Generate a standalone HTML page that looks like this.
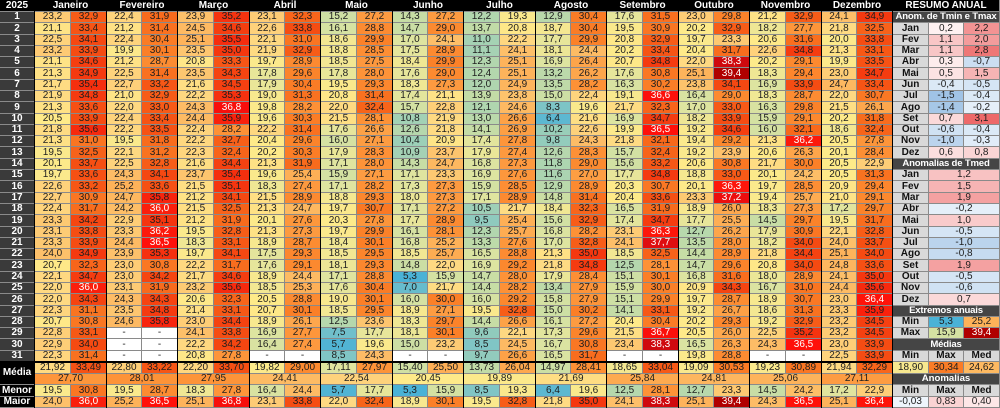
<!DOCTYPE html>
<html><head><meta charset="utf-8">
<style>
html,body{margin:0;padding:0;background:#000;}
#w{position:relative;width:1000px;height:408px;overflow:hidden;background:#8a8a8a;font-family:"Liberation Sans",Arial,sans-serif;}
.c{position:absolute;box-sizing:border-box;font-size:10px;color:#1e1e1e;text-align:center;white-space:nowrap;overflow:hidden;}
.b{font-weight:bold;color:#fff;}
.l{position:absolute;background:#000;}
</style></head><body>
<div id="w"></div>
<script>
var M=["Janeiro","Fevereiro","Março","Abril","Maio","Junho","Julho","Agosto","Setembro","Outubro","Novembro","Dezembro"];
var D=[
"23,2 32,9 21,1 33,4 22,5 34,1 23,2 33,9 21,1 34,6 21,3 34,9 21,7 35,4 21,9 34,8 21,3 33,6 20,5 33,9 21,8 35,6 21,3 31,0 19,5 32,5 20,1 33,7 19,7 33,6 22,6 33,2 22,7 30,9 22,4 31,7 23,3 34,2 23,1 33,8 23,3 33,9 24,0 34,9 20,7 32,3 22,1 34,7 22,0 36,0 22,0 34,3 22,3 31,1 20,7 30,8 22,8 33,1 22,9 34,0 22,3 31,4",
"22,4 31,9 21,2 31,4 22,4 30,4 19,9 30,1 21,2 28,7 22,5 31,4 22,7 33,2 21,0 32,9 22,0 33,0 22,4 33,4 22,2 33,5 19,5 31,8 22,1 31,2 22,5 32,8 24,3 34,1 25,2 33,6 24,7 35,8 24,2 36,0 22,9 35,1 23,3 36,2 24,4 36,5 23,9 35,3 23,0 30,8 23,0 34,2 23,1 31,9 24,3 34,3 23,5 34,8 24,6 35,8 - - - - - -",
"23,9 35,2 24,5 34,6 25,1 35,5 23,5 35,0 20,8 33,3 23,5 34,3 21,6 34,5 22,2 35,3 24,3 36,8 24,4 35,9 22,4 28,2 22,2 32,7 22,3 32,4 21,6 34,4 23,7 35,4 21,5 35,1 21,2 34,1 21,5 32,5 21,2 31,9 19,5 32,8 18,3 33,1 19,7 34,1 22,2 31,7 21,7 34,6 23,2 35,6 20,6 32,3 21,4 33,1 23,0 34,4 24,1 33,8 22,2 34,2 20,8 27,8",
"23,1 32,3 22,6 33,8 22,1 31,0 21,9 32,9 19,7 28,9 17,8 29,6 17,9 30,4 19,0 31,3 19,8 28,2 19,6 30,3 22,2 31,4 20,4 29,6 20,2 30,3 21,3 31,9 19,6 25,4 18,3 27,4 21,5 28,9 21,3 24,7 20,1 27,6 21,3 27,3 18,9 28,7 17,5 29,3 17,6 29,1 18,9 24,4 18,5 25,3 20,5 28,8 20,7 30,1 18,9 26,1 16,9 27,7 16,4 27,4 - -",
"15,2 27,2 16,1 28,8 18,6 29,9 18,8 28,5 18,5 27,5 17,8 28,0 19,5 29,3 20,8 31,4 22,0 32,4 21,5 28,1 17,6 26,6 16,0 27,1 17,9 28,3 17,1 28,0 15,9 27,1 17,1 28,2 18,8 29,3 19,7 30,7 20,3 27,8 19,7 29,9 18,4 30,1 18,5 29,5 18,1 29,3 17,1 28,8 17,6 30,4 19,0 30,1 18,5 29,5 12,5 23,6 7,5 17,7 5,7 19,6 8,5 24,3",
"14,3 27,2 14,7 29,0 17,0 24,1 17,5 28,9 18,4 29,9 17,6 29,0 18,3 27,3 17,4 21,1 15,7 22,8 10,8 21,9 12,6 21,8 10,4 20,9 10,9 23,7 14,3 24,7 17,1 23,3 17,3 27,3 18,0 27,3 17,1 27,2 17,7 28,9 16,1 28,1 16,8 25,2 18,5 25,7 14,8 22,0 5,3 15,9 7,0 21,7 16,0 30,0 18,9 27,1 18,3 29,7 18,1 30,1 15,0 23,2 - -",
"12,2 19,3 13,7 20,8 11,0 22,2 11,1 24,1 12,3 25,1 12,4 25,1 12,0 24,9 13,9 23,8 12,1 24,6 13,0 26,6 14,1 26,9 17,4 27,8 17,9 27,4 16,8 27,3 16,9 27,6 15,9 28,5 17,1 28,9 10,5 21,7 9,5 25,4 12,3 25,7 13,3 27,6 16,5 28,8 16,9 29,2 14,7 28,0 14,4 28,2 16,0 29,2 19,5 32,8 14,4 26,6 9,6 22,1 8,5 24,5 9,7 26,6",
"12,9 30,4 18,7 30,4 17,7 29,9 18,1 24,4 16,9 26,4 13,2 26,2 13,5 28,2 15,0 22,4 8,3 19,6 6,4 21,6 10,2 22,6 9,8 24,3 12,6 28,3 11,8 29,0 11,6 27,0 12,9 28,9 14,8 31,4 18,4 32,3 15,6 32,9 16,8 28,2 17,0 32,8 21,3 35,0 21,8 34,8 17,9 28,4 13,4 27,9 15,8 27,9 15,0 30,2 16,1 27,2 17,3 29,6 16,7 30,8 16,5 31,7",
"17,6 31,5 19,5 30,9 20,8 32,9 20,2 33,4 20,7 34,8 17,6 30,8 16,3 30,2 19,1 36,6 21,7 32,3 16,9 34,7 19,9 36,5 21,8 32,1 15,7 32,4 15,6 33,2 17,7 34,8 20,3 30,7 20,4 33,6 16,5 31,9 17,4 34,7 23,1 36,3 24,1 37,7 18,5 32,5 12,5 28,1 15,1 30,1 15,9 30,0 15,1 29,9 14,1 33,1 20,4 30,4 21,5 36,7 23,4 38,3 - -",
"23,0 29,8 20,2 32,9 19,7 23,3 20,4 31,7 22,0 38,3 25,1 39,4 23,8 34,1 16,4 29,0 17,0 33,0 18,2 33,9 19,2 34,6 19,4 29,2 19,2 23,9 20,6 30,8 18,8 33,0 20,1 36,3 23,3 37,2 18,9 26,0 17,7 25,5 12,7 26,2 13,5 28,0 14,4 28,9 14,7 29,6 16,8 31,6 20,9 34,3 19,7 28,7 19,2 26,7 20,2 29,3 20,5 26,0 16,5 26,3 19,8 28,8",
"21,2 32,9 18,2 27,7 20,6 31,6 22,6 34,8 20,2 29,1 18,3 29,4 16,9 33,9 18,3 28,7 16,3 29,8 15,9 29,1 16,0 32,1 21,3 36,2 20,6 26,3 21,7 30,0 20,1 24,2 19,7 28,5 19,4 25,7 18,3 27,3 14,5 29,7 17,9 30,9 18,2 34,0 21,8 34,4 20,8 34,0 18,0 28,9 16,7 31,0 18,9 30,7 18,6 31,3 19,2 32,9 22,5 35,2 24,3 36,5 - -",
"24,1 34,9 21,8 32,5 20,0 33,8 21,3 33,1 19,9 33,5 23,0 34,7 24,7 33,4 22,0 30,7 21,5 26,1 20,2 31,8 18,6 32,4 20,5 27,8 20,1 28,4 20,5 22,9 20,5 31,3 20,9 29,4 21,0 29,1 17,2 29,7 19,5 31,7 22,1 32,8 24,0 33,7 25,1 34,0 24,8 33,6 24,1 35,0 24,4 35,6 23,0 36,4 23,3 35,9 23,2 34,5 23,2 34,5 23,0 33,9 22,5 33,9"];
var MED=[["21,92","33,49","27,70"],["22,80","33,22","28,01"],["22,20","33,70","27,95"],["19,82","29,00","24,41"],["17,11","27,97","22,54"],["15,40","25,50","20,45"],["13,73","26,04","19,89"],["14,97","28,41","21,69"],["18,65","33,04","25,84"],["19,09","30,53","24,81"],["19,23","30,89","25,06"],["21,94","32,29","27,11"]];
var MEN=["19,5 30,8","19,5 28,7","18,3 27,8","16,4 24,4","5,7 17,7","5,3 15,9","8,5 19,3","6,4 19,6","12,5 28,1","12,7 23,3","14,5 24,2","17,2 22,9"];
var MAI=["24,0 36,0","25,2 36,5","25,1 36,8","23,1 33,8","22,0 32,4","18,9 30,1","19,5 32,8","21,8 35,0","24,1 38,3","25,1 39,4","24,3 36,5","25,1 36,4"];
var ST=[[5,[69,176,216]],[8,[120,194,200]],[11,[165,210,180]],[14,[196,220,166]],[17,[222,228,160]],[19,[248,232,142]],[20.5,[254,234,137]],[22,[254,217,130]],[24,[253,192,106]],[26,[253,168,78]],[28,[253,147,56]],[30,[251,128,40]],[32,[248,106,28]],[34,[245,74,18]],[35.5,[245,45,14]],[36.5,[255,16,10]],[38,[215,12,18]],[39.4,[176,0,0]]];
function col(v){if(v<=ST[0][0])return"rgb("+ST[0][1]+")";for(var i=1;i<ST.length;i++){if(v<=ST[i][0]){var a=ST[i-1],b=ST[i],t=(v-a[0])/(b[0]-a[0]);return"rgb("+[0,1,2].map(function(k){return Math.round(a[1][k]+(b[1][k]-a[1][k])*t)}).join(",")+")";}}return"rgb(176,0,0)";}
function num(s){return parseFloat(s.replace(",","."));}
var W=document.getElementById("w");
function cell(x1,y1,x2,y2,txt,bg,cls,fc){var d=document.createElement("div");d.className="c"+(cls?" "+cls:"");var X=Math.round(x1),Y=Math.round(y1),R=Math.round(x2),B=Math.round(y2);d.style.left=X+"px";d.style.top=Y+"px";d.style.width=(R-X-1)+"px";d.style.height=(B-Y-1)+"px";d.style.lineHeight=(B-Y-1)+"px";d.style.background=bg;if(fc)d.style.color=fc;d.textContent=txt;W.appendChild(d);return d;}
function vcell(x1,y1,x2,y2,s){if(s=="-"){cell(x1,y1,x2,y2,"-","#fff");return;}var v=num(s);cell(x1,y1,x2,y2,s,col(v),"",v>=36?"#fff":null);}
var RH=11.29;function ry(i){return 12+i*RH;}
function mx(m){return 35+m*71.5;}
cell(0,0,35,12,"2025","#000","b");
for(var m=0;m<12;m++)cell(mx(m),0,mx(m+1),12,M[m],"#000","b");
cell(893,0,1000,12,"RESUMO ANUAL","#000","b");
for(var i=0;i<31;i++){cell(0,ry(i),35,ry(i+1),String(i+1),"#3a3a3a","b");}
for(var m=0;m<12;m++){var t=D[m].split(" ");for(var i=0;i<31;i++){vcell(mx(m),ry(i),mx(m)+35.75,ry(i+1),t[2*i]);vcell(mx(m)+35.75,ry(i),mx(m+1),ry(i+1),t[2*i+1]);}}
var Y0=362,Y1=373.5,Y2=385,Y3=396.5,Y4=408;
cell(0,Y0,35,Y2,"Média","#000","b");cell(0,Y2,35,Y3,"Menor","#000","b");cell(0,Y3,35,Y4,"Maior","#000","b");
for(var m=0;m<12;m++){var a=mx(m),h=a+35.75,e=mx(m+1);
vcell(a,Y0,h,Y1,MED[m][0]);vcell(h,Y0,e,Y1,MED[m][1]);vcell(a,Y1,e,Y2,MED[m][2]);
var n=MEN[m].split(" "),x=MAI[m].split(" ");vcell(a,Y2,h,Y3,n[0]);vcell(h,Y2,e,Y3,n[1]);vcell(a,Y3,h,Y4,x[0]);vcell(h,Y3,e,Y4,x[1]);}
var P0=893,P1=928.7,P2=964.3,P3=1000,G="#d9d9d9",DG="#454545";
function anc(v){var s=num(v);if(s>=0){var t=Math.min(s/3.2,1);return"rgb("+Math.round(255-(255-236)*t)+","+Math.round(250-(250-100)*t)+","+Math.round(250-(250-100)*t)+")";}var t=Math.min(-s/1.6,1);return"rgb("+Math.round(240-(240-155)*t)+","+Math.round(246-(246-192)*t)+","+Math.round(252-(252-228)*t)+")";}
function hdr(i,t){var d=cell(P0,ry(i),P3,ry(i+1),t,DG,"b");d.style.fontSize="9.6px";d.style.letterSpacing="-0.2px";}
function lab(y1,y2,t){var d=cell(P0,y1,P1,y2,t,G,"b");d.style.color="#111";}
hdr(0,"Anom. de Tmin e Tmax");
var MS=["Jan","Fev","Mar","Abr","Mai","Jun","Jul","Ago","Set","Out","Nov","Dez"];
var AN=["0,2 2,2","1,1 2,0","1,1 2,8","0,3 -0,7","0,5 1,5","-0,4 -0,5","-1,5 -0,4","-1,4 -0,2","0,7 3,1","-0,6 -0,4","-1,0 -0,3","0,6 0,8"];
for(var i=0;i<12;i++){var p=AN[i].split(" ");lab(ry(i+1),ry(i+2),MS[i]);cell(P1,ry(i+1),P2,ry(i+2),p[0],anc(p[0]));cell(P2,ry(i+1),P3,ry(i+2),p[1],anc(p[1]));}
hdr(13,"Anomalias de Tmed");
var TM=["1,2","1,5","1,9","-0,2","1,0","-0,5","-1,0","-0,8","1,9","-0,5","-0,6","0,7"];
for(var i=0;i<12;i++){lab(ry(i+14),ry(i+15),MS[i]);cell(P1,ry(i+14),P3,ry(i+15),TM[i],anc(TM[i]));}
hdr(26,"Extremos anuais");
lab(ry(27),ry(28),"Min");vcell(P1,ry(27),P2,ry(28),"5,3");vcell(P2,ry(27),P3,ry(28),"25,2");
lab(ry(28),ry(29),"Max");vcell(P1,ry(28),P2,ry(29),"15,9");var d=cell(P2,ry(28),P3,ry(29),"39,4","rgb(176,0,0)","", "#fff");
hdr(29,"Médias");
function lab3(y1,y2){lab(y1,y2,"Min");var a=cell(P1,y1,P2,y2,"Max",G,"b");a.style.color="#111";var b=cell(P2,y1,P3,y2,"Med",G,"b");b.style.color="#111";}
lab3(ry(30),ry(31));
vcell(P0,Y0,P1,Y1,"18,90");vcell(P1,Y0,P2,Y1,"30,34");vcell(P2,Y0,P3,Y1,"24,62");
var h2=cell(P0,Y1,P3,Y2,"Anomalias",DG,"b");h2.style.fontSize="9.6px";
lab3(Y2,Y3);
cell(P0,Y3,P1,Y4,"-0,03",anc("-0,03"));cell(P1,Y3,P2,Y4,"0,83",anc("0,83"));cell(P2,Y3,P3,Y4,"0,40",anc("0,40"));
function L(x,y,w,h){var d=document.createElement("div");d.className="l";d.style.left=x+"px";d.style.top=y+"px";d.style.width=w+"px";d.style.height=h+"px";W.appendChild(d);}
for(var m=0;m<=12;m++){L(Math.round(mx(m))-1,0,1,408);}
L(0,361,893,2);
</script>
</body></html>
